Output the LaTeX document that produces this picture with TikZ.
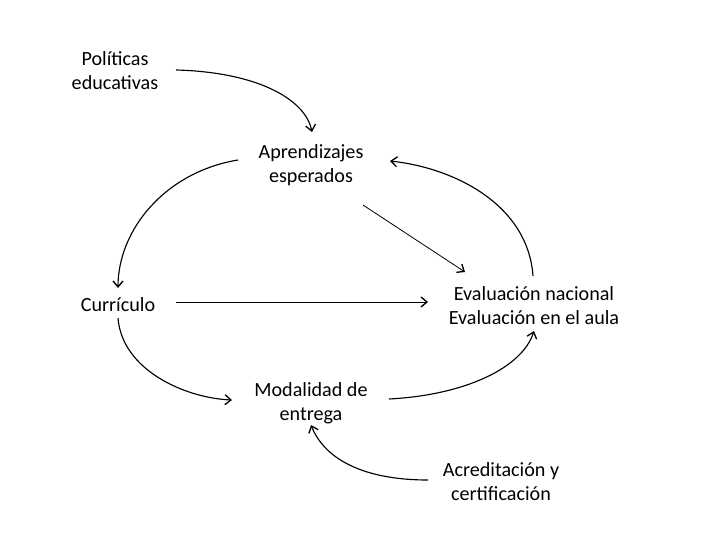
\documentclass[tikz,border=0pt]{standalone}
\usepackage{fontspec}
\setmainfont{Carlito}
\usetikzlibrary{arrows.meta}
\begin{document}
\begin{tikzpicture}[x=0.75pt,y=-0.75pt,
  lbl/.style={align=center,font=\fontsize{15.1pt}{18pt}\selectfont,inner sep=0pt},
  curv/.style={line width=0.85pt,-{Straight Barb[length=4.5pt,width=7.5pt,line width=1pt]}},
  strt/.style={line width=0.6pt,-{Straight Barb[length=4.5pt,width=7.5pt,line width=1pt]}}]
\useasboundingbox[fill=white] (0,0) rectangle (720,540);
\node[lbl] (pol) at (115,71) {Políticas\\educativas};
\node[lbl] (apr) at (311,165) {Aprendizajes\\esperados};
\node[lbl] (cur) at (118,305) {Currículo};
\node[lbl] (eva) at (534,306) {Evaluación nacional\\Evaluación en el aula};
\node[lbl] (mod) at (311,403) {Modalidad de\\entrega};
\node[lbl] (acr) at (501,482) {Acreditación y\\certificación};
% endpoints
\coordinate (polE) at (176,70);
\coordinate (aprN) at (312,132);
\coordinate (aprW) at (238,160);
\coordinate (aprSE) at (363,205);
\coordinate (aprE) at (390,161);
\coordinate (curN) at (118,288);
\coordinate (curE) at (176,302);
\coordinate (curS) at (118,318);
\coordinate (evaNW) at (465,272);
\coordinate (evaN) at (533,276);
\coordinate (evaW) at (428,302);
\coordinate (evaS) at (534,331);
\coordinate (modW) at (232,400);
\coordinate (modE) at (389,399);
\coordinate (modS) at (311,425);
\coordinate (acrW) at (428,480);
\draw[curv] (polE) .. controls (255,72) and (305,98) .. (aprN);
\draw[curv] (aprW) .. controls (165,172) and (118,230) .. (curN);
\draw[strt] (aprSE) -- (evaNW);
\draw[curv] (evaN) .. controls (528,205) and (455,168) .. (aprE);
\draw[strt] (curE) -- (evaW);
\draw[curv] (curS) .. controls (122,370) and (185,398) .. (modW);
\draw[curv] (modE) .. controls (465,395) and (522,368) .. (evaS);
\draw[curv] (acrW) .. controls (365,480) and (325,460) .. (modS);
\end{tikzpicture}
\end{document}
